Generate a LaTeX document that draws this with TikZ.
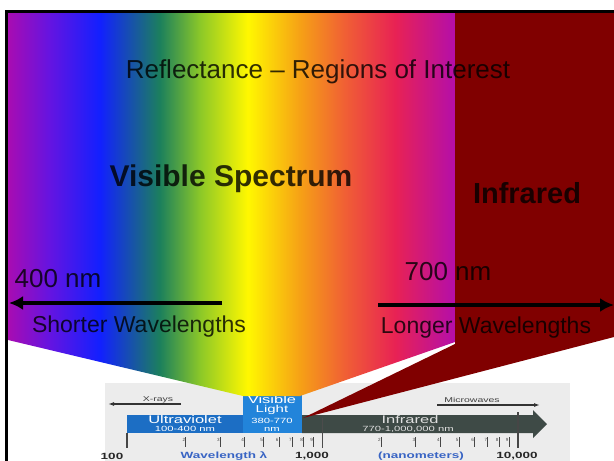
\documentclass[tikz,border=0pt]{standalone}
\usepackage{fontspec}
\setmainfont{Liberation Sans}
\newfontfamily\widesans[FakeStretch=1.5]{Liberation Sans}
\usetikzlibrary{arrows.meta, positioning}

% spectrum colours
\definecolor{specpurple}{RGB}{168,12,178}
\definecolor{specviolet}{RGB}{100,20,225}
\definecolor{specblue}{RGB}{18,32,255}
\definecolor{specgreen}{RGB}{28,128,92}
\definecolor{speclime}{RGB}{140,200,40}
\definecolor{specyellow}{RGB}{255,248,0}
\definecolor{specorange}{RGB}{246,160,22}
\definecolor{specred}{RGB}{240,96,52}
\definecolor{specpink}{RGB}{232,34,84}
\definecolor{specmagenta}{RGB}{180,14,170}
\definecolor{irdark}{RGB}{128,0,0}
% chart colours
\definecolor{chartbg}{RGB}{236,236,236}
\definecolor{uvblue}{RGB}{28,110,196}
\definecolor{visblue}{RGB}{34,132,218}
\definecolor{irgray}{RGB}{62,74,70}
\definecolor{axisblue}{RGB}{56,100,196}
\definecolor{tickgray}{RGB}{70,70,70}

\pgfdeclarehorizontalshading{spectrum}{100bp}{%
  color(0bp)=(specpurple); color(25bp)=(specpurple);
  color(29.7bp)=(specviolet); color(35.3bp)=(specblue);
  color(42bp)=(specgreen); color(46.5bp)=(speclime);
  color(51.8bp)=(specyellow); color(57.7bp)=(specorange);
  color(62.6bp)=(specred); color(68.3bp)=(specpink);
  color(75bp)=(specmagenta); color(100bp)=(specmagenta)}

\begin{document}
\begin{tikzpicture}[
  x=1pt, y=-1pt,
  bigtext/.style   = {text=black, text opacity=0.8,
                      font=\fontsize{26}{26}\selectfont},
  headtext/.style  = {bigtext, font=\fontsize{30}{30}\selectfont\bfseries},
  sidetext/.style  = {bigtext, font=\fontsize{23}{23}\selectfont},
  wavearrow/.style = {-{Latex[length=14pt,width=14pt]}, line width=4pt},
  bandtext/.style  = {text=white, inner sep=0pt,
                      font=\widesans\fontsize{11}{11}\selectfont},
  bandsmall/.style = {text=white, inner sep=0pt,
                      font=\widesans\fontsize{7.5}{7.5}\selectfont},
  smalltag/.style  = {text=black!75, inner sep=1pt,
                      font=\widesans\fontsize{7}{7}\selectfont},
  axislabel/.style = {text=black!85, font=\widesans\bfseries\fontsize{9}{9}\selectfont},
  tickdigit/.style = {text=tickgray, inner sep=0.5pt,
                      font=\fontsize{4.5}{4.5}\selectfont},
  tagarrow/.style  = {-{Latex[length=6pt,width=4pt]}, line width=1.4pt, black!80}
]
\useasboundingbox (0,0) rectangle (614,461);

% Wavelength chart
\fill[chartbg] (105,383) rectangle (570,461);
\fill[uvblue] (127,415) rectangle (243,433);
\fill[visblue] (243,393) rectangle (302,433);
\fill[irgray] (302,415) -- (533,415) -- (533,410) -- (547,424)
  -- (533,438) -- (533,433) -- (302,433) -- cycle;

\node[bandtext] (uv) at (185,419.5) {Ultraviolet};
\node[bandsmall] (uvrange) at (185,429) {100-400 nm};
\node[bandtext] (vislight) at (272,400) {Visible};
\node[bandtext, font=\widesans\fontsize{10}{10}\selectfont] (light) at (272,410) {Light};
\node[bandsmall] (visrange) at (272,421) {380-770};
\node[bandsmall] (visnm) at (272,429) {nm};
\node[bandtext, text=black!12] (irband) at (410,419.5) {Infrared};
\node[bandsmall, text=black!12] (irrange) at (408,429.5) {770-1,000,000 nm};

% X-rays / Microwaves tags
\node[smalltag, anchor=south] (xrays) at (158,404) {X-rays};
\coordinate (xrayend) at (181,404);
\coordinate (xraytip) at (108,404);
\draw[tagarrow] (xrayend) -- (xraytip);
\node[smalltag, anchor=south] (micro) at (472,404) {Microwaves};
\coordinate (microstart) at (437,405);
\coordinate (microtip) at (540,405);
\draw[tagarrow] (microstart) -- (microtip);

% log axis ticks
\draw[tickgray, line width=1.2pt] (127,433) -- (127,448);
\draw[black!70, line width=1.2pt] (322.5,418) -- (322.5,448);
\draw[tickgray, line width=1.2pt] (518,412) -- (518,448);
\foreach \dec in {0,1}
  \foreach \m in {2,...,9} {
    \pgfmathsetmacro\tx{127+195.5*(\dec+log10(\m))}
    \draw[tickgray, line width=0.8pt] (\tx,437) -- (\tx,447);
    \node[tickdigit, anchor=south east] (d\dec\m) at (\tx,442) {\m};
  }

\node[axislabel] (hundred) at (112,456) {100};
\node[axislabel, text=axisblue] (wavelen) at (224,456) {Wavelength λ};
\node[axislabel] (thousand) at (312,456) {1,000};
\node[axislabel, text=axisblue] (nanom) at (421,456) {(nanometers)};
\node[axislabel] (tenthousand) at (517,456) {10,000};

% Visible band funnel and infrared wedge
\shade[shading=spectrum] (8,13) -- (455,13) -- (455,342) -- (300,396)
  -- (243,396) -- (8,340) -- cycle;
\fill[irdark] (455,13) -- (614,13) -- (614,337) -- (303,418)
  -- (455,344) -- cycle;

% Labels
\node[bigtext] (title) at (318,72) {Reflectance \textendash{} Regions of Interest};
\node[headtext] (visspec) at (231,179) {Visible Spectrum};
\node[headtext, font=\fontsize{29}{29}\selectfont\bfseries] (infra) at (527,193) {Infrared};
\node[bigtext] (short) at (58,279) {400 nm};
\node[bigtext] (long) at (448,272) {700 nm};
\node[sidetext] (shortlab) at (139,327) {Shorter Wavelengths};
\node[sidetext] (longlab) at (486,328) {Longer Wavelengths};

% Wavelength arrows
\coordinate (shortend) at (222,303);
\coordinate (shorttip) at (9,303);
\draw[wavearrow] (shortend) -- (shorttip);
\coordinate (longstart) at (378,305);
\coordinate (longtip) at (614,305);
\draw[wavearrow] (longstart) -- (longtip);

% Frame
\draw[line width=3pt] (6.5,461) -- (6.5,11.5) -- (614,11.5);
\end{tikzpicture}
\end{document}
